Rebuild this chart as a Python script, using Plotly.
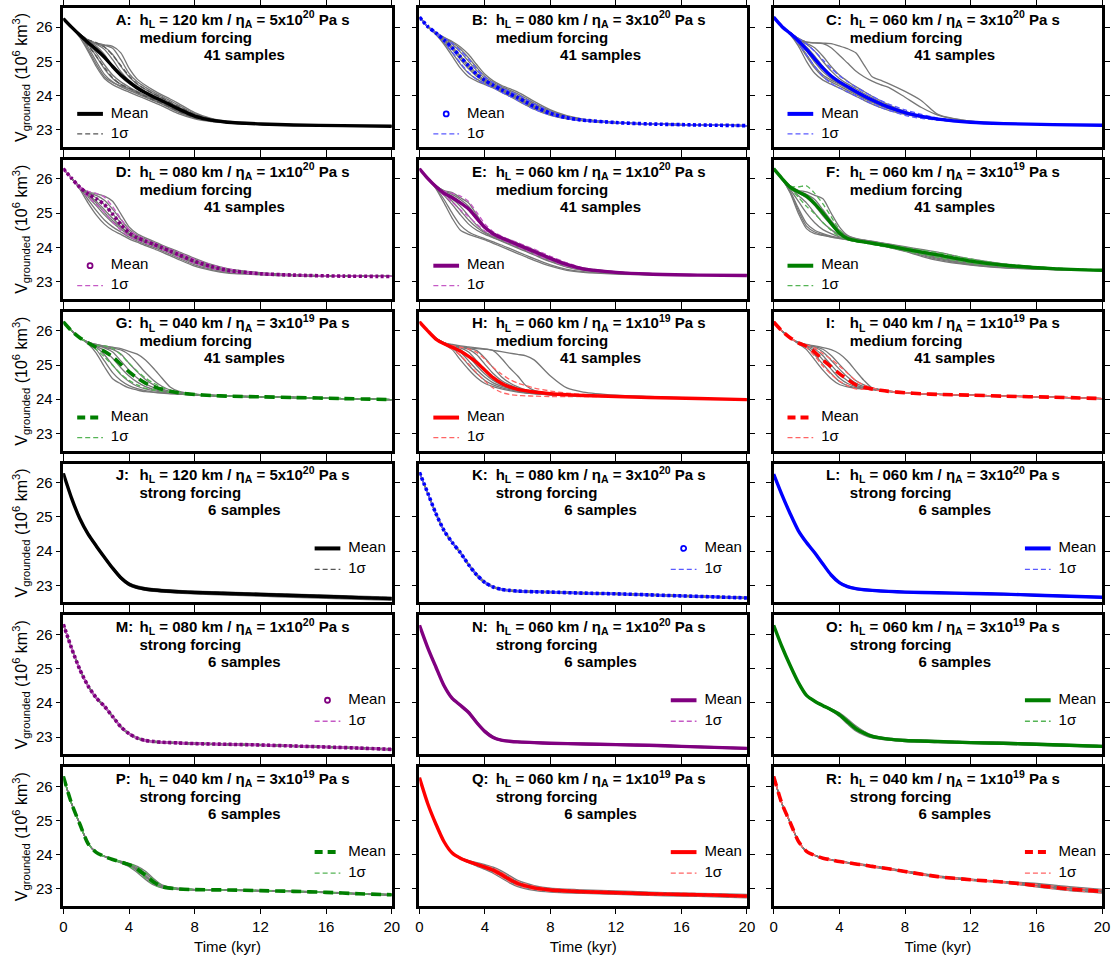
import plotly.graph_objects as go

# ---------------------------------------------------------------- time axes
T_MED = [0, 0.5, 1, 1.5, 2, 2.5, 3, 3.5, 4, 4.5, 5, 5.5, 6, 6.5, 7, 8, 9, 10, 12, 14, 17, 20]
T_STRONG = [0, 0.5, 1, 1.5, 2, 2.5, 3, 3.5, 4, 4.5, 5, 5.5, 6, 7, 8, 10, 12, 14, 16, 18, 20]
TIME_TICKS = [0, 4, 8, 12, 16, 20]
VOLUME_TICKS = [23, 24, 25, 26]
T_RANGE = [0, 20]
V_RANGE = [22.5, 26.56]

# ---------------------------------------------------------------- medium forcing (10^6 km^3)
SAMPLES_A = [
    [26.25, 26.0, 25.7, 25.3, 24.85, 24.5, 24.32, 24.2, 24.1, 24.0, 23.9, 23.8, 23.7, 23.58, 23.47, 23.32, 23.24, 23.2, 23.16, 23.14, 23.12, 23.1],
    [26.25, 26.0, 25.74, 25.42, 25.0, 24.62, 24.4, 24.26, 24.15, 24.05, 23.95, 23.85, 23.75, 23.63, 23.52, 23.35, 23.26, 23.21, 23.16, 23.14, 23.12, 23.1],
    [26.25, 26.0, 25.77, 25.55, 25.25, 24.9, 24.6, 24.4, 24.25, 24.12, 24.0, 23.9, 23.8, 23.68, 23.56, 23.37, 23.27, 23.21, 23.16, 23.14, 23.12, 23.1],
    [26.25, 26.0, 25.78, 25.6, 25.45, 25.2, 24.85, 24.55, 24.35, 24.2, 24.07, 23.95, 23.84, 23.72, 23.6, 23.4, 23.28, 23.22, 23.17, 23.14, 23.12, 23.1],
    [26.25, 26.0, 25.78, 25.6, 25.5, 25.35, 25.05, 24.7, 24.45, 24.27, 24.12, 24.0, 23.88, 23.76, 23.63, 23.42, 23.29, 23.22, 23.17, 23.14, 23.12, 23.1],
    [26.25, 26.0, 25.79, 25.62, 25.52, 25.42, 25.2, 24.85, 24.55, 24.33, 24.18, 24.05, 23.93, 23.8, 23.67, 23.44, 23.3, 23.23, 23.17, 23.14, 23.12, 23.1],
    [26.25, 26.0, 25.79, 25.62, 25.53, 25.47, 25.38, 25.05, 24.65, 24.4, 24.24, 24.1, 23.98, 23.85, 23.72, 23.47, 23.32, 23.24, 23.17, 23.14, 23.12, 23.1],
    [26.25, 26.0, 25.8, 25.63, 25.53, 25.48, 25.44, 25.25, 24.8, 24.48, 24.3, 24.15, 24.02, 23.9, 23.77, 23.5, 23.33, 23.25, 23.18, 23.15, 23.12, 23.1],
    [26.25, 26.0, 25.72, 25.35, 24.92, 24.55, 24.38, 24.28, 24.2, 24.1, 24.0, 23.9, 23.78, 23.65, 23.52, 23.34, 23.25, 23.2, 23.16, 23.14, 23.12, 23.1],
    [26.25, 26.0, 25.76, 25.5, 25.15, 24.78, 24.5, 24.33, 24.2, 24.07, 23.96, 23.86, 23.76, 23.65, 23.54, 23.36, 23.26, 23.21, 23.16, 23.14, 23.12, 23.1],
]
MEAN_A = [26.25, 26.0, 25.77, 25.55, 25.35, 25.12, 24.85, 24.6, 24.4, 24.22, 24.08, 23.96, 23.85, 23.73, 23.61, 23.4, 23.28, 23.22, 23.17, 23.14, 23.12, 23.1]
SIGMA_A = [0, 0, 0.02, 0.08, 0.2, 0.3, 0.33, 0.28, 0.18, 0.12, 0.1, 0.09, 0.08, 0.07, 0.07, 0.05, 0.03, 0.02, 0.01, 0.01, 0, 0]

SAMPLES_B = [
    [26.29, 26.02, 25.78, 25.5, 25.15, 24.8, 24.55, 24.42, 24.32, 24.22, 24.1, 23.98, 23.85, 23.72, 23.6, 23.42, 23.32, 23.26, 23.2, 23.17, 23.14, 23.12],
    [26.29, 26.02, 25.8, 25.55, 25.25, 24.92, 24.65, 24.48, 24.36, 24.25, 24.13, 24.01, 23.89, 23.76, 23.63, 23.44, 23.33, 23.27, 23.2, 23.17, 23.14, 23.12],
    [26.29, 26.02, 25.82, 25.6, 25.35, 25.05, 24.78, 24.56, 24.4, 24.28, 24.16, 24.04, 23.92, 23.79, 23.66, 23.46, 23.34, 23.27, 23.2, 23.17, 23.14, 23.12],
    [26.29, 26.02, 25.83, 25.64, 25.43, 25.16, 24.9, 24.64, 24.45, 24.32, 24.2, 24.08, 23.96, 23.83, 23.7, 23.49, 23.35, 23.28, 23.21, 23.17, 23.14, 23.12],
    [26.29, 26.02, 25.84, 25.67, 25.5, 25.27, 25.0, 24.73, 24.5, 24.35, 24.23, 24.12, 24.0, 23.87, 23.74, 23.52, 23.37, 23.29, 23.21, 23.17, 23.14, 23.12],
    [26.29, 26.02, 25.84, 25.69, 25.55, 25.36, 25.1, 24.82, 24.56, 24.39, 24.27, 24.16, 24.05, 23.92, 23.78, 23.55, 23.39, 23.3, 23.21, 23.17, 23.14, 23.12],
    [26.29, 26.02, 25.85, 25.7, 25.58, 25.42, 25.2, 24.9, 24.62, 24.43, 24.3, 24.2, 24.1, 23.97, 23.83, 23.58, 23.41, 23.31, 23.22, 23.17, 23.14, 23.12],
    [26.29, 26.02, 25.83, 25.62, 25.4, 25.12, 24.84, 24.6, 24.43, 24.3, 24.18, 24.06, 23.94, 23.81, 23.68, 23.48, 23.35, 23.28, 23.21, 23.17, 23.14, 23.12],
]
MEAN_B = [26.29, 26.02, 25.83, 25.62, 25.4, 25.13, 24.87, 24.62, 24.44, 24.3, 24.17, 24.05, 23.94, 23.81, 23.68, 23.48, 23.35, 23.28, 23.21, 23.17, 23.14, 23.12]
SIGMA_B = [0, 0, 0.02, 0.06, 0.13, 0.18, 0.2, 0.15, 0.1, 0.07, 0.07, 0.07, 0.08, 0.08, 0.08, 0.05, 0.03, 0.02, 0.01, 0, 0, 0]

SAMPLES_C = [
    [26.29, 26.02, 25.78, 25.45, 25.0, 24.65, 24.45, 24.33, 24.22, 24.1, 23.98, 23.86, 23.75, 23.65, 23.57, 23.45, 23.36, 23.29, 23.22, 23.18, 23.15, 23.13],
    [26.29, 26.02, 25.8, 25.52, 25.15, 24.8, 24.55, 24.4, 24.28, 24.15, 24.03, 23.91, 23.8, 23.7, 23.61, 23.47, 23.37, 23.3, 23.22, 23.18, 23.15, 23.13],
    [26.29, 26.02, 25.82, 25.58, 25.3, 24.98, 24.7, 24.5, 24.35, 24.21, 24.08, 23.96, 23.85, 23.74, 23.64, 23.49, 23.38, 23.3, 23.22, 23.18, 23.15, 23.13],
    [26.29, 26.02, 25.83, 25.62, 25.42, 25.15, 24.85, 24.6, 24.42, 24.28, 24.14, 24.01, 23.89, 23.78, 23.67, 23.5, 23.39, 23.31, 23.22, 23.18, 23.15, 23.13],
    [26.29, 26.02, 25.84, 25.65, 25.5, 25.3, 25.0, 24.72, 24.5, 24.34, 24.2, 24.06, 23.93, 23.81, 23.7, 23.52, 23.4, 23.31, 23.22, 23.18, 23.15, 23.13],
    [26.29, 26.02, 25.84, 25.67, 25.53, 25.4, 25.15, 24.85, 24.6, 24.42, 24.26, 24.12, 23.98, 23.85, 23.73, 23.54, 23.41, 23.32, 23.22, 23.18, 23.15, 23.13],
    [26.29, 26.02, 25.84, 25.67, 25.56, 25.54, 25.52, 25.4, 25.18, 24.95, 24.72, 24.55, 24.42, 24.32, 24.24, 23.95, 23.65, 23.43, 23.25, 23.19, 23.15, 23.13],
    [26.29, 26.02, 25.84, 25.67, 25.56, 25.54, 25.53, 25.52, 25.45, 25.37, 25.25, 24.9, 24.55, 24.45, 24.35, 24.12, 23.85, 23.45, 23.25, 23.19, 23.15, 23.13],
    [26.29, 26.02, 25.82, 25.55, 25.2, 24.85, 24.6, 24.45, 24.33, 24.2, 24.06, 23.93, 23.82, 23.72, 23.63, 23.48, 23.37, 23.3, 23.22, 23.18, 23.15, 23.13],
]
MEAN_C = [26.29, 26.02, 25.82, 25.6, 25.35, 25.07, 24.8, 24.57, 24.4, 24.26, 24.12, 23.99, 23.87, 23.76, 23.66, 23.5, 23.39, 23.31, 23.22, 23.18, 23.15, 23.13]
SIGMA_C = [0, 0, 0.02, 0.07, 0.16, 0.22, 0.24, 0.22, 0.18, 0.15, 0.13, 0.12, 0.11, 0.1, 0.09, 0.08, 0.06, 0.03, 0.01, 0, 0, 0]

SAMPLES_D = [
    [26.3, 26.02, 25.7, 25.3, 24.95, 24.68, 24.5, 24.38, 24.25, 24.15, 24.05, 23.96, 23.86, 23.76, 23.65, 23.45, 23.33, 23.25, 23.2, 23.17, 23.16, 23.15],
    [26.3, 26.02, 25.73, 25.4, 25.08, 24.8, 24.6, 24.45, 24.3, 24.19, 24.09, 24.0, 23.9, 23.8, 23.69, 23.49, 23.36, 23.27, 23.21, 23.18, 23.16, 23.15],
    [26.3, 26.02, 25.75, 25.48, 25.22, 24.95, 24.72, 24.53, 24.36, 24.23, 24.13, 24.04, 23.94, 23.84, 23.73, 23.53, 23.39, 23.3, 23.22, 23.18, 23.16, 23.15],
    [26.3, 26.02, 25.76, 25.54, 25.35, 25.1, 24.85, 24.62, 24.41, 24.27, 24.17, 24.08, 23.98, 23.88, 23.77, 23.57, 23.42, 23.32, 23.23, 23.19, 23.16, 23.15],
    [26.3, 26.02, 25.77, 25.58, 25.45, 25.25, 24.98, 24.72, 24.47, 24.31, 24.2, 24.11, 24.01, 23.91, 23.8, 23.6, 23.45, 23.34, 23.24, 23.19, 23.16, 23.15],
    [26.3, 26.02, 25.77, 25.6, 25.52, 25.38, 25.12, 24.82, 24.53, 24.35, 24.24, 24.14, 24.04, 23.94, 23.84, 23.64, 23.47, 23.36, 23.25, 23.2, 23.16, 23.15],
    [26.3, 26.02, 25.77, 25.62, 25.57, 25.5, 25.35, 24.98, 24.6, 24.4, 24.28, 24.18, 24.07, 23.97, 23.88, 23.68, 23.5, 23.38, 23.26, 23.2, 23.16, 23.15],
    [26.3, 26.02, 25.76, 25.52, 25.3, 25.02, 24.78, 24.58, 24.39, 24.25, 24.15, 24.06, 23.96, 23.86, 23.75, 23.55, 23.41, 23.31, 23.22, 23.18, 23.16, 23.15],
]
MEAN_D = [26.3, 26.02, 25.76, 25.56, 25.42, 25.25, 24.97, 24.67, 24.42, 24.28, 24.18, 24.09, 23.99, 23.89, 23.79, 23.59, 23.44, 23.33, 23.23, 23.19, 23.16, 23.15]
SIGMA_D = [0, 0, 0.02, 0.08, 0.16, 0.22, 0.22, 0.17, 0.1, 0.06, 0.05, 0.05, 0.05, 0.05, 0.06, 0.06, 0.05, 0.04, 0.02, 0.01, 0, 0]

SAMPLES_E = [
    [26.3, 26.02, 25.72, 25.3, 24.85, 24.5, 24.38, 24.3, 24.22, 24.12, 24.02, 23.92, 23.82, 23.72, 23.62, 23.45, 23.33, 23.27, 23.22, 23.2, 23.19, 23.18],
    [26.3, 26.02, 25.74, 25.4, 25.0, 24.65, 24.45, 24.34, 24.25, 24.16, 24.07, 23.97, 23.87, 23.77, 23.67, 23.49, 23.36, 23.29, 23.23, 23.2, 23.19, 23.18],
    [26.3, 26.02, 25.77, 25.52, 25.25, 24.95, 24.68, 24.5, 24.38, 24.28, 24.18, 24.08, 23.98, 23.88, 23.78, 23.58, 23.42, 23.33, 23.25, 23.21, 23.19, 23.18],
    [26.3, 26.02, 25.79, 25.6, 25.42, 25.2, 24.92, 24.65, 24.45, 24.33, 24.22, 24.12, 24.02, 23.92, 23.82, 23.62, 23.45, 23.35, 23.26, 23.21, 23.19, 23.18],
    [26.3, 26.02, 25.8, 25.63, 25.5, 25.32, 25.1, 24.82, 24.55, 24.38, 24.26, 24.16, 24.06, 23.96, 23.86, 23.66, 23.48, 23.37, 23.27, 23.22, 23.19, 23.18],
    [26.3, 26.02, 25.8, 25.65, 25.55, 25.4, 25.2, 24.9, 24.6, 24.41, 24.29, 24.2, 24.1, 24.0, 23.9, 23.69, 23.5, 23.39, 23.28, 23.22, 23.19, 23.18],
    [26.3, 26.02, 25.8, 25.66, 25.6, 25.45, 25.3, 24.95, 24.6, 24.42, 24.31, 24.22, 24.12, 24.02, 23.93, 23.7, 23.5, 23.39, 23.28, 23.22, 23.19, 23.18],
    [26.3, 26.02, 25.79, 25.58, 25.35, 25.08, 24.8, 24.58, 24.42, 24.3, 24.2, 24.1, 24.0, 23.9, 23.8, 23.6, 23.44, 23.34, 23.25, 23.21, 23.19, 23.18],
]
MEAN_E = [26.3, 26.02, 25.78, 25.58, 25.45, 25.3, 25.12, 24.85, 24.58, 24.4, 24.28, 24.18, 24.08, 23.98, 23.88, 23.68, 23.5, 23.37, 23.27, 23.22, 23.19, 23.18]
SIGMA_E = [0, 0, 0.01, 0.06, 0.13, 0.2, 0.22, 0.17, 0.1, 0.06, 0.05, 0.05, 0.06, 0.06, 0.07, 0.06, 0.05, 0.03, 0.02, 0.01, 0, 0]

SAMPLES_F = [
    [26.3, 26.0, 25.6, 25.0, 24.55, 24.4, 24.35, 24.3, 24.26, 24.22, 24.18, 24.14, 24.1, 24.05, 24.0, 23.88, 23.74, 23.62, 23.48, 23.4, 23.35, 23.32],
    [26.3, 26.0, 25.65, 25.15, 24.7, 24.5, 24.4, 24.33, 24.28, 24.24, 24.2, 24.16, 24.12, 24.08, 24.03, 23.92, 23.8, 23.68, 23.52, 23.43, 23.36, 23.33],
    [26.3, 26.0, 25.7, 25.35, 25.0, 24.72, 24.52, 24.4, 24.31, 24.25, 24.2, 24.16, 24.12, 24.08, 24.03, 23.93, 23.82, 23.7, 23.53, 23.44, 23.37, 23.33],
    [26.3, 26.02, 25.75, 25.52, 25.3, 25.0, 24.72, 24.52, 24.36, 24.27, 24.22, 24.18, 24.14, 24.1, 24.05, 23.95, 23.84, 23.73, 23.55, 23.45, 23.37, 23.33],
    [26.3, 26.02, 25.78, 25.6, 25.45, 25.22, 24.92, 24.65, 24.42, 24.3, 24.24, 24.2, 24.17, 24.13, 24.09, 24.0, 23.9, 23.8, 23.6, 23.48, 23.38, 23.33],
    [26.3, 26.02, 25.8, 25.65, 25.55, 25.4, 25.1, 24.78, 24.5, 24.33, 24.25, 24.21, 24.17, 24.13, 24.08, 23.98, 23.87, 23.76, 23.58, 23.47, 23.38, 23.33],
    [26.3, 26.02, 25.8, 25.67, 25.62, 25.52, 25.42, 25.0, 24.6, 24.35, 24.26, 24.22, 24.18, 24.14, 24.1, 24.02, 23.94, 23.86, 23.66, 23.52, 23.4, 23.34],
    [26.3, 26.0, 25.62, 25.08, 24.62, 24.45, 24.37, 24.31, 24.27, 24.23, 24.19, 24.15, 24.11, 24.06, 24.01, 23.9, 23.77, 23.65, 23.5, 23.41, 23.35, 23.32],
]
MEAN_F = [26.3, 26.02, 25.76, 25.62, 25.5, 25.28, 25.0, 24.7, 24.42, 24.26, 24.2, 24.16, 24.12, 24.08, 24.04, 23.95, 23.86, 23.78, 23.6, 23.48, 23.38, 23.33]
SIGMA_F = [0, 0, 0.03, 0.15, 0.3, 0.3, 0.27, 0.2, 0.1, 0.04, 0.03, 0.03, 0.03, 0.04, 0.04, 0.05, 0.06, 0.07, 0.06, 0.04, 0.02, 0.01]

SAMPLES_G = [
    [26.26, 26.0, 25.8, 25.62, 25.35, 24.95, 24.6, 24.45, 24.33, 24.27, 24.22, 24.2, 24.18, 24.16, 24.15, 24.12, 24.1, 24.09, 24.07, 24.05, 24.02, 23.99],
    [26.26, 26.0, 25.8, 25.64, 25.45, 25.12, 24.78, 24.55, 24.4, 24.31, 24.25, 24.21, 24.19, 24.17, 24.15, 24.12, 24.1, 24.09, 24.07, 24.05, 24.02, 23.99],
    [26.26, 26.0, 25.8, 25.65, 25.52, 25.3, 25.0, 24.72, 24.52, 24.38, 24.3, 24.25, 24.21, 24.18, 24.16, 24.13, 24.1, 24.09, 24.07, 24.05, 24.02, 23.99],
    [26.26, 26.0, 25.8, 25.66, 25.55, 25.42, 25.2, 24.92, 24.68, 24.5, 24.37, 24.29, 24.24, 24.2, 24.17, 24.13, 24.11, 24.09, 24.07, 24.05, 24.02, 23.99],
    [26.26, 26.0, 25.8, 25.66, 25.57, 25.5, 25.38, 25.12, 24.85, 24.62, 24.45, 24.34, 24.26, 24.21, 24.18, 24.14, 24.11, 24.09, 24.07, 24.05, 24.02, 23.99],
    [26.26, 26.0, 25.8, 25.67, 25.58, 25.52, 25.46, 25.32, 25.05, 24.8, 24.58, 24.42, 24.3, 24.23, 24.19, 24.14, 24.11, 24.09, 24.07, 24.05, 24.02, 23.99],
    [26.26, 26.0, 25.8, 25.67, 25.6, 25.55, 25.5, 25.44, 25.3, 25.05, 24.78, 24.55, 24.38, 24.27, 24.21, 24.15, 24.12, 24.1, 24.07, 24.05, 24.02, 23.99],
    [26.26, 26.0, 25.8, 25.67, 25.6, 25.56, 25.52, 25.48, 25.4, 25.32, 25.15, 24.9, 24.62, 24.36, 24.24, 24.15, 24.12, 24.1, 24.07, 24.05, 24.02, 23.99],
]
MEAN_G = [26.26, 26.0, 25.8, 25.65, 25.52, 25.4, 25.24, 25.02, 24.8, 24.62, 24.47, 24.37, 24.29, 24.23, 24.19, 24.14, 24.11, 24.09, 24.07, 24.05, 24.02, 23.99]
SIGMA_G = [0, 0, 0, 0.01, 0.06, 0.16, 0.25, 0.28, 0.25, 0.2, 0.15, 0.1, 0.06, 0.03, 0.02, 0.01, 0, 0, 0, 0, 0, 0]

SAMPLES_H = [
    [26.26, 26.0, 25.78, 25.6, 25.45, 25.15, 24.87, 24.63, 24.46, 24.37, 24.3, 24.25, 24.21, 24.18, 24.16, 24.13, 24.11, 24.1, 24.08, 24.05, 24.02, 23.99],
    [26.26, 26.0, 25.78, 25.62, 25.5, 25.28, 25.0, 24.75, 24.55, 24.42, 24.34, 24.28, 24.23, 24.19, 24.17, 24.13, 24.11, 24.1, 24.08, 24.05, 24.02, 23.99],
    [26.26, 26.0, 25.78, 25.63, 25.53, 25.38, 25.12, 24.86, 24.64, 24.48, 24.38, 24.31, 24.25, 24.2, 24.17, 24.14, 24.11, 24.1, 24.08, 24.05, 24.02, 23.99],
    [26.26, 26.0, 25.78, 25.64, 25.55, 25.45, 25.25, 24.98, 24.74, 24.55, 24.42, 24.34, 24.27, 24.21, 24.18, 24.14, 24.11, 24.1, 24.08, 24.05, 24.02, 23.99],
    [26.26, 26.0, 25.78, 25.64, 25.56, 25.5, 25.38, 25.12, 24.85, 24.63, 24.47, 24.37, 24.29, 24.23, 24.19, 24.14, 24.11, 24.1, 24.08, 24.05, 24.02, 23.99],
    [26.26, 26.0, 25.78, 25.65, 25.57, 25.52, 25.46, 25.3, 25.02, 24.75, 24.55, 24.42, 24.32, 24.25, 24.2, 24.14, 24.12, 24.1, 24.08, 24.05, 24.02, 23.99],
    [26.26, 26.0, 25.78, 25.65, 25.58, 25.53, 25.5, 25.48, 25.46, 25.42, 25.2, 24.92, 24.68, 24.4, 24.26, 24.16, 24.12, 24.1, 24.08, 24.05, 24.02, 23.99],
    [26.26, 26.0, 25.78, 25.65, 25.6, 25.56, 25.53, 25.5, 25.47, 25.43, 25.39, 25.35, 25.31, 25.27, 25.15, 24.68, 24.33, 24.21, 24.12, 24.08, 24.03, 23.99],
    [26.26, 26.0, 25.78, 25.65, 25.58, 25.53, 25.49, 25.42, 25.2, 24.92, 24.66, 24.48, 24.36, 24.27, 24.21, 24.15, 24.12, 24.1, 24.08, 24.05, 24.02, 23.99],
]
MEAN_H = [26.26, 26.0, 25.76, 25.62, 25.52, 25.4, 25.25, 25.07, 24.85, 24.63, 24.47, 24.36, 24.29, 24.25, 24.21, 24.16, 24.13, 24.11, 24.08, 24.05, 24.02, 23.99]
SIGMA_H = [0, 0, 0.01, 0.02, 0.05, 0.12, 0.22, 0.3, 0.32, 0.3, 0.27, 0.22, 0.18, 0.15, 0.12, 0.08, 0.05, 0.03, 0.01, 0, 0, 0]

SAMPLES_I = [
    [26.26, 26.0, 25.8, 25.62, 25.45, 25.15, 24.85, 24.6, 24.43, 24.36, 24.32, 24.3, 24.28, 24.25, 24.22, 24.19, 24.16, 24.14, 24.12, 24.09, 24.06, 24.02],
    [26.26, 26.0, 25.8, 25.64, 25.52, 25.3, 25.02, 24.75, 24.52, 24.4, 24.34, 24.31, 24.29, 24.26, 24.23, 24.19, 24.16, 24.14, 24.12, 24.09, 24.06, 24.02],
    [26.26, 26.0, 25.8, 25.65, 25.55, 25.4, 25.15, 24.88, 24.62, 24.46, 24.37, 24.32, 24.29, 24.26, 24.23, 24.19, 24.16, 24.14, 24.12, 24.09, 24.06, 24.02],
    [26.26, 26.0, 25.8, 25.65, 25.57, 25.47, 25.27, 25.0, 24.74, 24.54, 24.41, 24.34, 24.3, 24.26, 24.23, 24.19, 24.16, 24.14, 24.12, 24.09, 24.06, 24.02],
    [26.26, 26.0, 25.8, 25.66, 25.58, 25.52, 25.38, 25.14, 24.88, 24.65, 24.47, 24.37, 24.31, 24.27, 24.24, 24.19, 24.16, 24.14, 24.12, 24.09, 24.06, 24.02],
    [26.26, 26.0, 25.8, 25.66, 25.59, 25.54, 25.46, 25.28, 25.02, 24.77, 24.55, 24.42, 24.33, 24.28, 24.24, 24.19, 24.16, 24.14, 24.12, 24.09, 24.06, 24.02],
    [26.26, 26.0, 25.8, 25.66, 25.6, 25.56, 25.51, 25.45, 25.33, 25.12, 24.83, 24.55, 24.33, 24.27, 24.24, 24.2, 24.16, 24.14, 24.12, 24.09, 24.06, 24.02],
]
MEAN_I = [26.26, 26.0, 25.8, 25.65, 25.55, 25.38, 25.15, 24.95, 24.75, 24.58, 24.42, 24.35, 24.3, 24.26, 24.23, 24.19, 24.16, 24.14, 24.12, 24.09, 24.06, 24.02]
SIGMA_I = [0, 0, 0, 0.01, 0.04, 0.12, 0.18, 0.22, 0.22, 0.18, 0.12, 0.06, 0.03, 0.01, 0.01, 0, 0, 0, 0, 0, 0, 0]

# ---------------------------------------------------------------- strong forcing (10^6 km^3)
SAMPLES_J = [
    [26.27, 25.54, 24.93, 24.48, 24.12, 23.79, 23.47, 23.18, 22.99, 22.9, 22.85, 22.82, 22.8, 22.77, 22.75, 22.71, 22.68, 22.65, 22.62, 22.59, 22.56],
    [26.27, 25.55, 24.94, 24.49, 24.14, 23.81, 23.49, 23.2, 23.01, 22.92, 22.87, 22.84, 22.82, 22.79, 22.77, 22.74, 22.71, 22.68, 22.65, 22.62, 22.59],
    [26.27, 25.55, 24.95, 24.5, 24.15, 23.82, 23.5, 23.22, 23.03, 22.94, 22.89, 22.86, 22.84, 22.81, 22.79, 22.76, 22.73, 22.7, 22.67, 22.64, 22.61],
    [26.27, 25.56, 24.96, 24.51, 24.16, 23.83, 23.51, 23.24, 23.05, 22.96, 22.91, 22.88, 22.86, 22.83, 22.81, 22.78, 22.75, 22.72, 22.69, 22.66, 22.63],
    [26.27, 25.56, 24.96, 24.52, 24.17, 23.84, 23.53, 23.26, 23.07, 22.98, 22.93, 22.9, 22.88, 22.85, 22.83, 22.8, 22.77, 22.74, 22.71, 22.68, 22.65],
    [26.27, 25.55, 24.95, 24.5, 24.15, 23.83, 23.52, 23.24, 23.04, 22.95, 22.9, 22.87, 22.85, 22.82, 22.8, 22.77, 22.74, 22.71, 22.68, 22.65, 22.62],
]
MEAN_J = [26.27, 25.55, 24.95, 24.5, 24.15, 23.82, 23.5, 23.22, 23.03, 22.94, 22.89, 22.86, 22.84, 22.81, 22.79, 22.76, 22.73, 22.7, 22.67, 22.64, 22.61]
SIGMA_J = [0, 0.005, 0.01, 0.01, 0.015, 0.015, 0.02, 0.025, 0.025, 0.025, 0.025, 0.025, 0.025, 0.025, 0.025, 0.025, 0.025, 0.025, 0.025, 0.025, 0.03]

SAMPLES_K = [
    [26.3, 25.69, 25.08, 24.58, 24.23, 23.93, 23.58, 23.27, 23.05, 22.93, 22.86, 22.83, 22.81, 22.79, 22.78, 22.75, 22.73, 22.7, 22.67, 22.64, 22.61],
    [26.3, 25.7, 25.09, 24.59, 24.24, 23.94, 23.59, 23.29, 23.07, 22.94, 22.87, 22.84, 22.82, 22.8, 22.79, 22.76, 22.74, 22.71, 22.68, 22.65, 22.62],
    [26.3, 25.7, 25.1, 24.6, 24.25, 23.95, 23.6, 23.3, 23.08, 22.95, 22.88, 22.85, 22.83, 22.81, 22.8, 22.77, 22.75, 22.72, 22.69, 22.66, 22.63],
    [26.3, 25.71, 25.11, 24.61, 24.26, 23.96, 23.61, 23.31, 23.09, 22.96, 22.89, 22.86, 22.84, 22.82, 22.81, 22.78, 22.76, 22.73, 22.7, 22.67, 22.64],
    [26.3, 25.71, 25.12, 24.62, 24.27, 23.97, 23.62, 23.33, 23.11, 22.97, 22.9, 22.87, 22.85, 22.83, 22.82, 22.79, 22.77, 22.74, 22.71, 22.68, 22.65],
    [26.3, 25.7, 25.1, 24.6, 24.25, 23.96, 23.61, 23.31, 23.08, 22.95, 22.88, 22.85, 22.83, 22.81, 22.8, 22.77, 22.75, 22.72, 22.69, 22.66, 22.63],
]
MEAN_K = [26.3, 25.7, 25.1, 24.6, 24.25, 23.95, 23.6, 23.3, 23.08, 22.95, 22.88, 22.85, 22.83, 22.81, 22.8, 22.77, 22.75, 22.72, 22.69, 22.66, 22.63]
SIGMA_K = [0, 0.005, 0.01, 0.01, 0.01, 0.01, 0.01, 0.015, 0.015, 0.015, 0.015, 0.015, 0.015, 0.015, 0.015, 0.015, 0.015, 0.015, 0.015, 0.015, 0.015]

SAMPLES_L = [
    [26.25, 25.64, 25.08, 24.58, 24.23, 23.93, 23.6, 23.28, 23.06, 22.94, 22.88, 22.85, 22.83, 22.8, 22.78, 22.76, 22.74, 22.72, 22.69, 22.66, 22.63],
    [26.25, 25.65, 25.09, 24.59, 24.24, 23.94, 23.61, 23.29, 23.07, 22.95, 22.89, 22.86, 22.84, 22.81, 22.79, 22.77, 22.75, 22.73, 22.7, 22.67, 22.64],
    [26.25, 25.65, 25.1, 24.6, 24.25, 23.95, 23.62, 23.3, 23.08, 22.96, 22.9, 22.87, 22.85, 22.82, 22.8, 22.78, 22.76, 22.74, 22.71, 22.68, 22.65],
    [26.25, 25.66, 25.11, 24.61, 24.26, 23.96, 23.63, 23.31, 23.09, 22.97, 22.91, 22.88, 22.86, 22.83, 22.81, 22.79, 22.77, 22.75, 22.72, 22.69, 22.66],
    [26.25, 25.66, 25.12, 24.62, 24.27, 23.97, 23.64, 23.32, 23.1, 22.98, 22.92, 22.89, 22.87, 22.84, 22.82, 22.8, 22.78, 22.76, 22.73, 22.7, 22.67],
    [26.25, 25.65, 25.1, 24.6, 24.25, 23.95, 23.62, 23.3, 23.08, 22.96, 22.9, 22.87, 22.85, 22.82, 22.8, 22.78, 22.76, 22.74, 22.72, 22.69, 22.66],
]
MEAN_L = [26.25, 25.65, 25.1, 24.6, 24.25, 23.95, 23.62, 23.3, 23.08, 22.96, 22.9, 22.87, 22.85, 22.82, 22.8, 22.78, 22.76, 22.74, 22.71, 22.68, 22.65]
SIGMA_L = [0, 0.005, 0.01, 0.01, 0.01, 0.01, 0.01, 0.01, 0.01, 0.01, 0.01, 0.01, 0.01, 0.01, 0.01, 0.01, 0.01, 0.01, 0.01, 0.01, 0.01]

SAMPLES_M = [
    [26.3, 25.59, 24.96, 24.48, 24.13, 23.88, 23.58, 23.28, 23.08, 22.95, 22.88, 22.85, 22.83, 22.81, 22.79, 22.77, 22.75, 22.72, 22.69, 22.66, 22.62],
    [26.3, 25.6, 24.97, 24.49, 24.14, 23.89, 23.59, 23.29, 23.09, 22.96, 22.89, 22.86, 22.84, 22.82, 22.8, 22.78, 22.76, 22.73, 22.7, 22.67, 22.63],
    [26.3, 25.6, 24.98, 24.5, 24.15, 23.9, 23.6, 23.3, 23.1, 22.97, 22.9, 22.87, 22.85, 22.83, 22.81, 22.79, 22.77, 22.74, 22.71, 22.68, 22.64],
    [26.3, 25.61, 24.99, 24.51, 24.16, 23.91, 23.61, 23.31, 23.11, 22.98, 22.91, 22.88, 22.86, 22.84, 22.82, 22.8, 22.78, 22.75, 22.72, 22.69, 22.65],
    [26.3, 25.61, 25.0, 24.52, 24.17, 23.92, 23.62, 23.32, 23.12, 22.99, 22.92, 22.89, 22.87, 22.85, 22.83, 22.81, 22.79, 22.76, 22.73, 22.7, 22.66],
    [26.3, 25.6, 24.98, 24.5, 24.15, 23.9, 23.6, 23.31, 23.1, 22.97, 22.9, 22.87, 22.85, 22.83, 22.81, 22.79, 22.77, 22.74, 22.71, 22.68, 22.64],
]
MEAN_M = [26.3, 25.6, 24.98, 24.5, 24.15, 23.9, 23.6, 23.3, 23.1, 22.97, 22.9, 22.87, 22.85, 22.83, 22.81, 22.79, 22.77, 22.74, 22.71, 22.68, 22.64]
SIGMA_M = [0, 0.005, 0.01, 0.01, 0.01, 0.01, 0.01, 0.015, 0.015, 0.015, 0.015, 0.015, 0.015, 0.015, 0.015, 0.015, 0.015, 0.015, 0.015, 0.015, 0.015]

SAMPLES_N = [
    [26.27, 25.61, 25.03, 24.48, 24.11, 23.91, 23.7, 23.4, 23.14, 22.97, 22.89, 22.86, 22.84, 22.82, 22.8, 22.78, 22.76, 22.74, 22.71, 22.68, 22.65],
    [26.27, 25.62, 25.04, 24.49, 24.12, 23.92, 23.71, 23.41, 23.15, 22.98, 22.9, 22.87, 22.85, 22.83, 22.81, 22.79, 22.77, 22.75, 22.72, 22.69, 22.66],
    [26.27, 25.62, 25.05, 24.5, 24.13, 23.93, 23.72, 23.42, 23.16, 22.99, 22.91, 22.88, 22.86, 22.84, 22.82, 22.8, 22.78, 22.76, 22.73, 22.7, 22.67],
    [26.27, 25.63, 25.06, 24.51, 24.14, 23.94, 23.73, 23.44, 23.18, 23.0, 22.92, 22.89, 22.87, 22.85, 22.83, 22.81, 22.79, 22.77, 22.74, 22.71, 22.68],
    [26.27, 25.63, 25.07, 24.52, 24.15, 23.95, 23.75, 23.46, 23.2, 23.02, 22.93, 22.9, 22.88, 22.86, 22.84, 22.82, 22.8, 22.78, 22.75, 22.72, 22.69],
    [26.27, 25.62, 25.05, 24.5, 24.13, 23.93, 23.72, 23.43, 23.17, 22.99, 22.91, 22.88, 22.86, 22.84, 22.82, 22.8, 22.78, 22.76, 22.73, 22.7, 22.67],
]
MEAN_N = [26.27, 25.62, 25.05, 24.5, 24.13, 23.93, 23.72, 23.42, 23.16, 22.99, 22.91, 22.88, 22.86, 22.84, 22.82, 22.8, 22.78, 22.76, 22.73, 22.7, 22.67]
SIGMA_N = [0, 0.005, 0.01, 0.01, 0.01, 0.01, 0.015, 0.02, 0.02, 0.02, 0.015, 0.015, 0.015, 0.015, 0.015, 0.015, 0.015, 0.015, 0.015, 0.015, 0.015]

SAMPLES_O = [
    [26.27, 25.64, 25.08, 24.58, 24.2, 24.03, 23.9, 23.77, 23.6, 23.38, 23.18, 23.06, 22.98, 22.91, 22.87, 22.84, 22.81, 22.79, 22.76, 22.73, 22.7],
    [26.27, 25.65, 25.09, 24.59, 24.21, 24.04, 23.91, 23.78, 23.63, 23.41, 23.21, 23.09, 23.0, 22.92, 22.88, 22.85, 22.82, 22.8, 22.77, 22.74, 22.71],
    [26.27, 25.65, 25.1, 24.6, 24.22, 24.05, 23.92, 23.8, 23.66, 23.45, 23.25, 23.12, 23.02, 22.94, 22.9, 22.87, 22.84, 22.82, 22.79, 22.76, 22.73],
    [26.27, 25.66, 25.11, 24.61, 24.23, 24.06, 23.93, 23.82, 23.69, 23.5, 23.3, 23.15, 23.04, 22.96, 22.92, 22.89, 22.86, 22.84, 22.81, 22.78, 22.75],
    [26.27, 25.66, 25.12, 24.62, 24.24, 24.07, 23.94, 23.83, 23.71, 23.53, 23.33, 23.17, 23.06, 22.97, 22.93, 22.9, 22.87, 22.85, 22.82, 22.79, 22.76],
    [26.27, 25.65, 25.1, 24.6, 24.22, 24.05, 23.92, 23.79, 23.65, 23.44, 23.24, 23.11, 23.02, 22.94, 22.9, 22.86, 22.83, 22.81, 22.78, 22.75, 22.72],
]
MEAN_O = [26.27, 25.65, 25.1, 24.6, 24.22, 24.05, 23.92, 23.8, 23.66, 23.45, 23.25, 23.12, 23.02, 22.94, 22.9, 22.87, 22.84, 22.82, 22.79, 22.76, 22.73]
SIGMA_O = [0, 0.005, 0.01, 0.01, 0.01, 0.01, 0.01, 0.02, 0.04, 0.05, 0.05, 0.04, 0.03, 0.02, 0.02, 0.02, 0.02, 0.02, 0.02, 0.02, 0.02]

SAMPLES_P = [
    [26.29, 25.5, 24.9, 24.33, 24.07, 23.95, 23.85, 23.76, 23.65, 23.48, 23.28, 23.12, 23.03, 22.98, 22.97, 22.96, 22.94, 22.92, 22.89, 22.85, 22.82],
    [26.29, 25.5, 24.9, 24.33, 24.07, 23.95, 23.86, 23.77, 23.68, 23.53, 23.34, 23.16, 23.05, 22.99, 22.97, 22.96, 22.94, 22.92, 22.89, 22.85, 22.82],
    [26.29, 25.5, 24.9, 24.33, 24.07, 23.95, 23.86, 23.79, 23.71, 23.58, 23.4, 23.2, 23.07, 23.0, 22.98, 22.97, 22.95, 22.93, 22.9, 22.86, 22.83],
    [26.29, 25.5, 24.9, 24.33, 24.07, 23.95, 23.87, 23.8, 23.73, 23.62, 23.46, 23.25, 23.09, 23.01, 22.98, 22.97, 22.95, 22.93, 22.9, 22.86, 22.83],
    [26.29, 25.5, 24.9, 24.33, 24.07, 23.96, 23.87, 23.81, 23.75, 23.66, 23.52, 23.3, 23.12, 23.02, 22.99, 22.98, 22.96, 22.94, 22.91, 22.87, 22.84],
    [26.29, 25.5, 24.9, 24.33, 24.07, 23.95, 23.86, 23.78, 23.7, 23.56, 23.37, 23.18, 23.06, 23.0, 22.98, 22.97, 22.95, 22.93, 22.9, 22.86, 22.83],
]
MEAN_P = [26.29, 25.5, 24.9, 24.33, 24.07, 23.95, 23.86, 23.79, 23.71, 23.58, 23.4, 23.2, 23.07, 23.0, 22.98, 22.97, 22.95, 22.93, 22.9, 22.86, 22.83]
SIGMA_P = [0, 0, 0, 0, 0, 0.005, 0.01, 0.02, 0.04, 0.06, 0.08, 0.07, 0.03, 0.01, 0.01, 0.005, 0.005, 0.005, 0.005, 0.005, 0.005]

SAMPLES_Q = [
    [26.25, 25.5, 24.9, 24.38, 24.04, 23.88, 23.77, 23.67, 23.57, 23.46, 23.32, 23.18, 23.07, 22.96, 22.91, 22.87, 22.84, 22.81, 22.79, 22.77, 22.74],
    [26.25, 25.5, 24.9, 24.38, 24.04, 23.89, 23.78, 23.69, 23.6, 23.5, 23.37, 23.23, 23.11, 22.99, 22.94, 22.89, 22.86, 22.83, 22.81, 22.79, 22.76],
    [26.25, 25.5, 24.9, 24.38, 24.05, 23.9, 23.8, 23.72, 23.64, 23.55, 23.42, 23.28, 23.16, 23.03, 22.97, 22.92, 22.89, 22.86, 22.84, 22.82, 22.79],
    [26.25, 25.5, 24.9, 24.38, 24.05, 23.91, 23.82, 23.75, 23.68, 23.6, 23.48, 23.34, 23.21, 23.07, 23.0, 22.95, 22.92, 22.89, 22.87, 22.85, 22.82],
    [26.25, 25.5, 24.9, 24.38, 24.06, 23.92, 23.83, 23.77, 23.71, 23.64, 23.53, 23.39, 23.25, 23.1, 23.02, 22.97, 22.94, 22.91, 22.88, 22.86, 22.84],
    [26.25, 25.5, 24.9, 24.38, 24.05, 23.9, 23.79, 23.71, 23.62, 23.53, 23.4, 23.26, 23.14, 23.02, 22.96, 22.91, 22.88, 22.85, 22.83, 22.81, 22.78],
]
MEAN_Q = [26.25, 25.5, 24.9, 24.38, 24.05, 23.9, 23.8, 23.72, 23.64, 23.55, 23.42, 23.28, 23.16, 23.03, 22.97, 22.92, 22.89, 22.86, 22.84, 22.82, 22.79]
SIGMA_Q = [0, 0, 0, 0, 0.01, 0.015, 0.02, 0.03, 0.04, 0.06, 0.07, 0.07, 0.06, 0.05, 0.04, 0.035, 0.035, 0.035, 0.035, 0.035, 0.035]

SAMPLES_R = [
    [26.29, 25.5, 24.95, 24.4, 24.1, 23.98, 23.9, 23.84, 23.79, 23.76, 23.72, 23.68, 23.64, 23.57, 23.49, 23.34, 23.25, 23.18, 23.06, 22.95, 22.88],
    [26.29, 25.5, 24.95, 24.4, 24.1, 23.98, 23.9, 23.85, 23.8, 23.77, 23.73, 23.69, 23.65, 23.58, 23.5, 23.35, 23.26, 23.19, 23.08, 22.97, 22.9],
    [26.29, 25.5, 24.95, 24.4, 24.1, 23.98, 23.9, 23.85, 23.8, 23.77, 23.73, 23.7, 23.66, 23.59, 23.51, 23.36, 23.27, 23.2, 23.1, 23.0, 22.93],
    [26.29, 25.5, 24.95, 24.4, 24.1, 23.98, 23.9, 23.85, 23.8, 23.77, 23.74, 23.71, 23.67, 23.6, 23.52, 23.37, 23.28, 23.21, 23.13, 23.04, 22.96],
    [26.29, 25.5, 24.95, 24.4, 24.1, 23.98, 23.91, 23.86, 23.81, 23.78, 23.75, 23.72, 23.68, 23.61, 23.53, 23.38, 23.29, 23.22, 23.16, 23.07, 22.99],
    [26.29, 25.5, 24.95, 24.4, 24.1, 23.98, 23.9, 23.85, 23.8, 23.77, 23.73, 23.7, 23.66, 23.59, 23.51, 23.36, 23.27, 23.2, 23.11, 23.02, 22.95],
]
MEAN_R = [26.29, 25.5, 24.95, 24.4, 24.1, 23.98, 23.9, 23.85, 23.8, 23.77, 23.73, 23.7, 23.66, 23.59, 23.51, 23.36, 23.27, 23.2, 23.1, 23.0, 22.93]
SIGMA_R = [0, 0, 0, 0, 0, 0, 0.005, 0.005, 0.005, 0.005, 0.008, 0.01, 0.01, 0.01, 0.01, 0.01, 0.01, 0.01, 0.03, 0.04, 0.04]

# ---------------------------------------------------------------- panel descriptions
LETTERS = list("ABCDEFGHIJKLMNOPQR")
H_L = ["120", "080", "060", "080", "060", "060", "040", "060", "040"] * 2
ETA_MANTISSA = ["5", "3", "3", "1", "1", "3", "3", "1", "1"] * 2
ETA_EXPONENT = ["20", "20", "20", "20", "20", "19", "19", "19", "19"] * 2
FORCING = ["medium"] * 9 + ["strong"] * 9
N_SAMPLES = [41] * 9 + [6] * 9
MEAN_STYLE = ["solid", "dots", "solid", "dots", "solid", "solid", "dash", "solid", "dash"] * 2
PALETTE = ["black", "blue", "blue", "purple", "purple", "green", "green", "red", "red"] * 2

SAMPLES = [SAMPLES_A, SAMPLES_B, SAMPLES_C, SAMPLES_D, SAMPLES_E, SAMPLES_F, SAMPLES_G, SAMPLES_H, SAMPLES_I,
           SAMPLES_J, SAMPLES_K, SAMPLES_L, SAMPLES_M, SAMPLES_N, SAMPLES_O, SAMPLES_P, SAMPLES_Q, SAMPLES_R]
MEANS = [MEAN_A, MEAN_B, MEAN_C, MEAN_D, MEAN_E, MEAN_F, MEAN_G, MEAN_H, MEAN_I,
         MEAN_J, MEAN_K, MEAN_L, MEAN_M, MEAN_N, MEAN_O, MEAN_P, MEAN_Q, MEAN_R]
SIGMAS = [SIGMA_A, SIGMA_B, SIGMA_C, SIGMA_D, SIGMA_E, SIGMA_F, SIGMA_G, SIGMA_H, SIGMA_I,
          SIGMA_J, SIGMA_K, SIGMA_L, SIGMA_M, SIGMA_N, SIGMA_O, SIGMA_P, SIGMA_Q, SIGMA_R]

MEAN_COLOR = {"black": "#000000", "blue": "#0000ff", "purple": "#800080", "green": "#007f00", "red": "#ff0000"}
SIGMA_COLOR = {"black": "#555555", "blue": "#5a5aff", "purple": "#c55ac5", "green": "#55b455", "red": "#ff6464"}
SAMPLE_COLOR = "#777777"

FONT = "Liberation Sans, Arial, Helvetica, sans-serif"

# ---------------------------------------------------------------- page geometry (px)
W, H = 1119, 957
COL_LEFT = [60, 420, 778]
COL_RIGHT = [392, 751, 1110]
ROW_TOP = [7 + 152 * r for r in range(6)]
ROW_H = 139


def px_x(px):
    return px / W


def px_y(py):
    return 1 - py / H


def mean_line(style, color):
    if style == "dots":
        return dict(color=color, width=3.6, dash="3px,2.5px", shape="spline", smoothing=0.7)
    if style == "dash":
        return dict(color=color, width=3.6, dash="10px,6px", shape="spline", smoothing=0.7)
    return dict(color=color, width=3.4, shape="spline", smoothing=0.7)


fig = go.Figure()
layout = {}
shapes = []

for idx in range(18):
    r, c = divmod(idx, 3)
    k = idx + 1
    sfx = "" if k == 1 else str(k)
    xa, ya = "x" + sfx, "y" + sfx
    left, right = COL_LEFT[c], COL_RIGHT[c]
    top = ROW_TOP[r]
    times = T_MED if FORCING[idx] == "medium" else T_STRONG
    mc = MEAN_COLOR[PALETTE[idx]]
    sc = SIGMA_COLOR[PALETTE[idx]]

    # pixel offsets inside a panel -> that panel's data coordinates (for the text labels)
    def tx_of(px):
        return T_RANGE[0] + (px - left) / (right - left) * (T_RANGE[1] - T_RANGE[0])

    def vy_of(py):
        return V_RANGE[1] - (py - top) / ROW_H * (V_RANGE[1] - V_RANGE[0])

    for s in SAMPLES[idx]:
        assert len(s) == len(times)
        fig.add_trace(go.Scatter(x=times, y=s, mode="lines", xaxis=xa, yaxis=ya,
                                 line=dict(color=SAMPLE_COLOR, width=1.3, shape="spline", smoothing=0.7),
                                 hoverinfo="skip", showlegend=False))
    m, sg = MEANS[idx], SIGMAS[idx]
    assert len(m) == len(times) and len(sg) == len(times)
    upper = [a + b for a, b in zip(m, sg)]
    lower = [a - b for a, b in zip(m, sg)]
    for band in (upper, lower):
        fig.add_trace(go.Scatter(x=times, y=band, mode="lines", xaxis=xa, yaxis=ya,
                                 line=dict(color=sc, width=1.3, dash="5px,3px", shape="spline", smoothing=0.7),
                                 hoverinfo="skip", showlegend=False))
    fig.add_trace(go.Scatter(x=times, y=m, mode="lines", xaxis=xa, yaxis=ya,
                             line=mean_line(MEAN_STYLE[idx], mc), showlegend=False))

    # panel heading
    heading_x = [tx_of(left + 53), tx_of(left + 77), tx_of(left + 77), tx_of(left + 183)]
    heading_y = [vy_of(top + 13), vy_of(top + 13), vy_of(top + 31), vy_of(top + 48)]
    heading_txt = [
        "<b>%s:</b>" % LETTERS[idx],
        "<b>h<sub>L</sub> = %s km / η<sub>A</sub> = %sx10<sup>%s</sup> Pa s</b>" % (H_L[idx], ETA_MANTISSA[idx], ETA_EXPONENT[idx]),
        "<b>%s forcing</b>" % FORCING[idx],
        "<b>%d samples</b>" % N_SAMPLES[idx],
    ]
    fig.add_trace(go.Scatter(x=heading_x, y=heading_y, text=heading_txt, mode="text", xaxis=xa, yaxis=ya,
                             textposition=["middle right", "middle right", "middle right", "middle center"],
                             textfont=dict(family=FONT, size=15, color="black"),
                             cliponaxis=False, hoverinfo="skip", showlegend=False))

    # key for mean and 1 sigma
    if FORCING[idx] == "medium":
        lx0, lx1, kx, my, sy = left + 14, left + 40, left + 48, top + 106, top + 126
    else:
        lx0, lx1, kx, my, sy = left + 254, left + 280, left + 288, top + 85, top + 106
    style = MEAN_STYLE[idx]
    pref = dict(xref="paper", yref="paper")
    if style == "dots":
        cx = (lx0 + lx1) / 2
        shapes.append(dict(type="circle", xsizemode="pixel", ysizemode="pixel", xanchor=px_x(cx), yanchor=px_y(my),
                           x0=-2.5, x1=2.5, y0=-2.5, y1=2.5, line=dict(color=mc, width=1.8), **pref))
    else:
        shapes.append(dict(type="line", x0=px_x(lx0), x1=px_x(lx1), y0=px_y(my), y1=px_y(my),
                           line=dict(color=mc, width=4, dash="solid" if style == "solid" else "8px,5px"), **pref))
    shapes.append(dict(type="line", x0=px_x(lx0), x1=px_x(lx1), y0=px_y(sy), y1=px_y(sy),
                       line=dict(color=sc, width=1.3, dash="5px,3px"), **pref))
    fig.add_trace(go.Scatter(x=[tx_of(kx), tx_of(kx)], y=[vy_of(my), vy_of(sy)], text=["Mean", "1σ"],
                             mode="text", xaxis=xa, yaxis=ya, textposition="middle right",
                             textfont=dict(family=FONT, size=15, color="black"),
                             cliponaxis=False, hoverinfo="skip", showlegend=False))

    # axes
    bottom_row = r == 5
    first_col = c == 0
    xaxis = dict(
        domain=[left / W, right / W], anchor=ya, range=T_RANGE, tickvals=TIME_TICKS,
        ticks="outside", ticklen=5, tickwidth=1, tickcolor="black",
        showline=True, linewidth=2.5, linecolor="black", mirror="ticks",
        showgrid=False, zeroline=False, showticklabels=bottom_row,
        tickfont=dict(family=FONT, size=15, color="black"),
    )
    if bottom_row:
        xaxis["title"] = dict(text="Time (kyr)", font=dict(family=FONT, size=15, color="black"), standoff=8)
    yaxis = dict(
        domain=[1 - (top + ROW_H) / H, 1 - top / H], anchor=xa, range=V_RANGE, tickvals=VOLUME_TICKS,
        ticks="outside", ticklen=5, tickwidth=1, tickcolor="black",
        showline=True, linewidth=2.5, linecolor="black", mirror="ticks",
        showgrid=False, zeroline=False, showticklabels=first_col,
        tickfont=dict(family=FONT, size=15, color="black"),
    )
    if first_col:
        yaxis["title"] = dict(text="V<sub>grounded</sub> (10<sup>6</sup> km<sup>3</sup>)",
                              font=dict(family=FONT, size=16, color="black"), standoff=5)
    layout["xaxis" + sfx] = xaxis
    layout["yaxis" + sfx] = yaxis

fig.update_layout(
    width=W, height=H, margin=dict(l=0, r=0, t=0, b=0),
    paper_bgcolor="white", plot_bgcolor="white",
    font=dict(family=FONT, size=15, color="black"),
    showlegend=False, shapes=shapes, **layout,
)

fig.write_html("out.html")
